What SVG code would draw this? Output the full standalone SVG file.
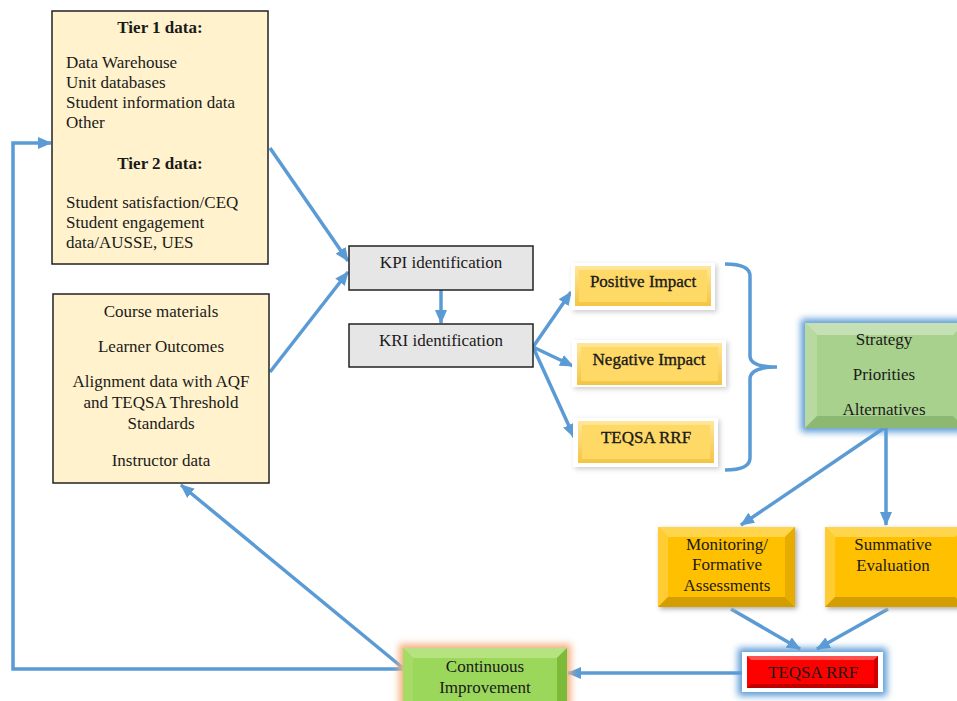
<svg xmlns="http://www.w3.org/2000/svg" width="957" height="701" viewBox="0 0 957 701">
<style>
text{font-family:"Liberation Serif","Times New Roman",serif;font-size:17px;fill:#1a1a1a}
.c{text-anchor:middle}
.b{font-weight:bold}
.sb{stroke:#1a1a1a;stroke-width:0.35}
.cream{fill:#fff2cc;stroke:#222;stroke-width:1.5}
.grey{fill:#e7e6e6;stroke:#222;stroke-width:1.5}
.ln{fill:none;stroke:#5b9bd5;stroke-width:3.5}
</style>
<defs>
<marker id="ah" markerUnits="userSpaceOnUse" markerWidth="14" markerHeight="12" refX="13" refY="6" orient="auto">
<path d="M0,0 L14,6 L0,12 z" fill="#5b9bd5"/>
</marker>
<filter id="glow" x="-30%" y="-40%" width="160%" height="180%">
<feGaussianBlur stdDeviation="3.5"/>
</filter>
<filter id="shadow" x="-20%" y="-30%" width="140%" height="160%">
<feGaussianBlur stdDeviation="2.5"/>
</filter>
<linearGradient id="ygrad" x1="0" y1="0" x2="0" y2="1">
<stop offset="0" stop-color="#ffe699"/>
<stop offset="1" stop-color="#f4c542"/>
</linearGradient>
</defs>

<g id="connectors">
<path class="ln" d="M270,148 L348,261" marker-end="url(#ah)"/>
<path class="ln" d="M270,372 L348,272" marker-end="url(#ah)"/>
<path class="ln" d="M441,290 L441,323" marker-end="url(#ah)"/>
<path class="ln" d="M533,347 L571,292" marker-end="url(#ah)"/>
<path class="ln" d="M533,347 L573,366" marker-end="url(#ah)"/>
<path class="ln" d="M533,347 L574,437" marker-end="url(#ah)"/>
<path class="ln" d="M725,264 Q750,264 750,276 L750,356 Q750,367 777,367 Q750,367 750,379 L750,458 Q750,470 725,470"/>
<path class="ln" d="M884,428 L741,525" marker-end="url(#ah)"/>
<path class="ln" d="M886,428 L886,525" marker-end="url(#ah)"/>
<path class="ln" d="M731,609 L800,649" marker-end="url(#ah)"/>
<path class="ln" d="M888,609 L817,649" marker-end="url(#ah)"/>
<path class="ln" d="M742,673 L568,673" marker-end="url(#ah)"/>
<path class="ln" d="M403,668 L181,485" marker-end="url(#ah)"/>
<path class="ln" d="M403,669 L13,669 L13,143 L51,143" marker-end="url(#ah)"/>
</g>

<g id="tier-data">
<rect class="cream" x="52" y="11" width="216" height="253"/>
<text class="c b" x="160" y="33">Tier 1 data:</text>
<text x="66" y="68">Data Warehouse</text>
<text x="66" y="88">Unit databases</text>
<text x="66" y="108">Student information data</text>
<text x="66" y="128">Other</text>
<text class="c b" x="160" y="169">Tier 2 data:</text>
<text x="66" y="208">Student satisfaction/CEQ</text>
<text x="66" y="228">Student engagement</text>
<text x="66" y="248">data/AUSSE, UES</text>
</g>

<g id="course-data">
<rect class="cream" x="53" y="294" width="216" height="189"/>
<text class="c" x="161" y="317">Course materials</text>
<text class="c" x="161" y="352">Learner Outcomes</text>
<text class="c" x="161" y="387">Alignment data with AQF</text>
<text class="c" x="161" y="408">and TEQSA Threshold</text>
<text class="c" x="161" y="429">Standards</text>
<text class="c" x="161" y="466">Instructor data</text>
</g>

<g id="kpi">
<rect class="grey" x="349" y="246" width="184" height="44"/>
<text class="c" x="441" y="268">KPI identification</text>
</g>
<g id="kri">
<rect class="grey" x="349" y="324" width="184" height="43"/>
<text class="c" x="441" y="346">KRI identification</text>
</g>

<g id="positive">
<rect x="573" y="265" width="144" height="47" fill="#999" opacity="0.5" filter="url(#shadow)"/>
<rect x="571" y="263" width="144" height="47" fill="#fff"/>
<rect x="575" y="266" width="136" height="40" fill="url(#ygrad)"/>
<rect x="579" y="270" width="128" height="32" fill="#ffd966"/>
<text class="c sb" x="643" y="287">Positive Impact</text>
</g>
<g id="negative">
<rect x="574" y="342" width="154" height="47" fill="#999" opacity="0.5" filter="url(#shadow)"/>
<rect x="572" y="340" width="154" height="47" fill="#fff"/>
<rect x="577" y="343" width="145" height="42" fill="url(#ygrad)"/>
<rect x="581" y="347" width="137" height="34" fill="#ffd966"/>
<text class="c sb" x="649" y="365">Negative Impact</text>
</g>
<g id="teqsa1">
<rect x="575" y="420" width="145" height="49" fill="#999" opacity="0.5" filter="url(#shadow)"/>
<rect x="573" y="418" width="145" height="49" fill="#fff"/>
<rect x="578" y="421" width="136" height="42" fill="url(#ygrad)"/>
<rect x="582" y="425" width="128" height="34" fill="#ffd966"/>
<text class="c sb" x="646" y="443">TEQSA RRF</text>
</g>

<g id="strategy">
<rect x="801" y="319" width="170" height="113" fill="#5b9bd5" filter="url(#glow)"/>
<rect x="805" y="323" width="160" height="105" fill="#a9d18e"/>
<polygon points="805,323 965,323 953,335 817,335" fill="#c5e0b4"/>
<polygon points="805,323 817,335 817,416 805,428" fill="#b8d9a1"/>
<polygon points="805,428 817,416 953,416 965,428" fill="#8db872"/>
<rect x="817" y="335" width="136" height="81" fill="#a9d18e"/>
<text class="c" x="884" y="345">Strategy</text>
<text class="c" x="884" y="380">Priorities</text>
<text class="c" x="884" y="415">Alternatives</text>
</g>

<g id="monitoring">
<rect x="660" y="529" width="137" height="80" fill="#aaa" filter="url(#shadow)"/>
<rect x="658" y="527" width="137" height="80" fill="#ffc000"/>
<polygon points="658,527 795,527 785,537 668,537" fill="#ffd54d"/>
<polygon points="658,527 668,537 668,597 658,607" fill="#ffcc33"/>
<polygon points="795,527 795,607 785,597 785,537" fill="#e6ac00"/>
<polygon points="658,607 668,597 785,597 795,607" fill="#d49d00"/>
<text class="c" x="727" y="550">Monitoring/</text>
<text class="c" x="727" y="570">Formative</text>
<text class="c" x="727" y="591">Assessments</text>
</g>

<g id="summative">
<rect x="827" y="529" width="137" height="80" fill="#aaa" filter="url(#shadow)"/>
<rect x="825" y="527" width="140" height="80" fill="#ffc000"/>
<polygon points="825,527 965,527 955,537 835,537" fill="#ffd54d"/>
<polygon points="825,527 835,537 835,597 825,607" fill="#ffcc33"/>
<polygon points="825,607 835,597 955,597 965,607" fill="#d49d00"/>
<text class="c" x="893" y="550">Summative</text>
<text class="c" x="893" y="571">Evaluation</text>
</g>

<g id="teqsa2">
<rect x="738" y="648" width="149" height="48" fill="#5b9bd5" filter="url(#glow)"/>
<rect x="742" y="652" width="141" height="40" fill="#fff"/>
<rect x="747" y="656" width="131" height="32" fill="#ff0000"/>
<polygon points="747,656 878,656 874,660 751,660" fill="#ff5050"/>
<polygon points="747,688 751,684 874,684 878,688" fill="#c00000"/>
<polygon points="878,656 878,688 874,684 874,660" fill="#d00000"/>
<text class="c" x="813" y="678">TEQSA RRF</text>
</g>

<g id="continuous">
<rect x="399" y="644" width="172" height="68" fill="#f4b183" filter="url(#glow)"/>
<rect x="403" y="648" width="164" height="60" fill="#92d050"/>
<polygon points="403,648 567,648 557,658 413,658" fill="#b6e37f"/>
<polygon points="403,648 413,658 413,708 403,708" fill="#a6dc66"/>
<polygon points="567,648 567,708 557,708 557,658" fill="#7cba3a"/>
<rect x="413" y="658" width="144" height="50" fill="#9bd75a"/>
<text class="c" x="485" y="672">Continuous</text>
<text class="c" x="485" y="693">Improvement</text>
</g>
</svg>
